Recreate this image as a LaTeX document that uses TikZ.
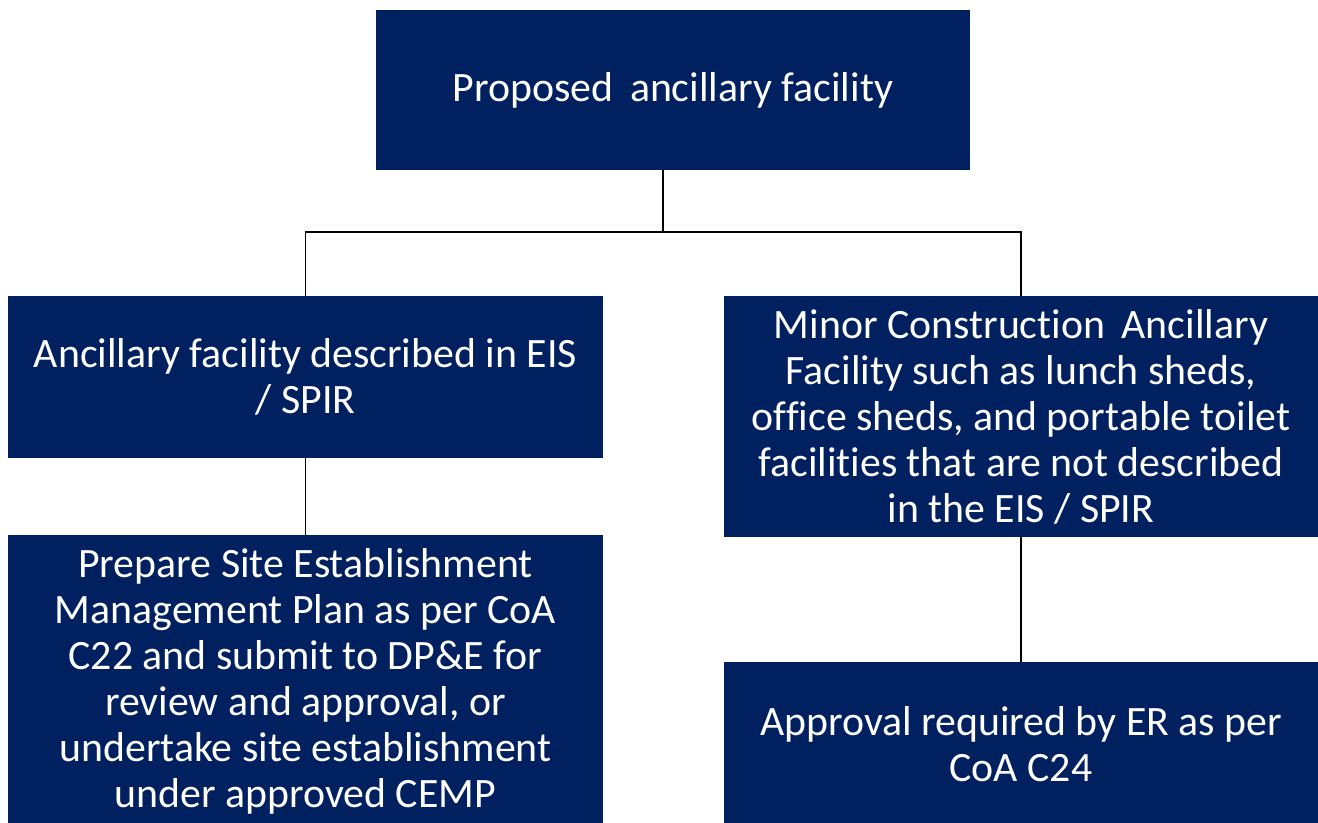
\documentclass[tikz,border=0pt]{standalone}
\usepackage{fontspec}
\setmainfont[Ligatures=NoCommon]{Carlito}
\usetikzlibrary{positioning}
\definecolor{navy}{RGB}{0,32,96}

\begin{document}
\begin{tikzpicture}[x=0.02cm,y=-0.02cm,
    box/.style={fill=navy,text=white,align=center,inner sep=0pt,
      font=\fontsize{23.8}{26.2}\selectfont},
    link/.style={line width=0.8pt,black}]
  \useasboundingbox (0,0) rectangle (1318,822);
  \node[box,minimum width=11.88cm,minimum height=3.2cm] (proposed) at (673,90) {Proposed\, ancillary facility};
  \node[box,minimum width=11.9cm,minimum height=3.24cm] (described) at (305.5,377) {Ancillary facility described in EIS\\/ SPIR};
  \node[box,minimum width=11.88cm,minimum height=4.82cm] (minor) at (1021,416.5) {Minor Construction\, Ancillary\\Facility such as lunch sheds,\\office sheds, and portable toilet\\facilities that are not described\\in the EIS / SPIR};
  \node[box,minimum width=11.9cm,minimum height=5.84cm] (siteplan) at (305.5,681) {Prepare Site Establishment\\Management Plan as per CoA\\C22 and submit to DP\&E for\\review and approval, or\\undertake site establishment\\under approved CEMP};
  \node[box,minimum width=11.88cm,minimum height=3.28cm] (approval) at (1021,744) {Approval required by ER as per\\CoA C24};
  % tree connectors
  \coordinate (split) at (663,232);
  \draw[link] (split |- proposed.south) -- (split);
  \draw[link] (described.north) |- (split) -| (minor.north);
  \draw[link] (described.south) -- (siteplan.north);
  \draw[link] (minor.south) -- (approval.north);
\end{tikzpicture}
\end{document}
